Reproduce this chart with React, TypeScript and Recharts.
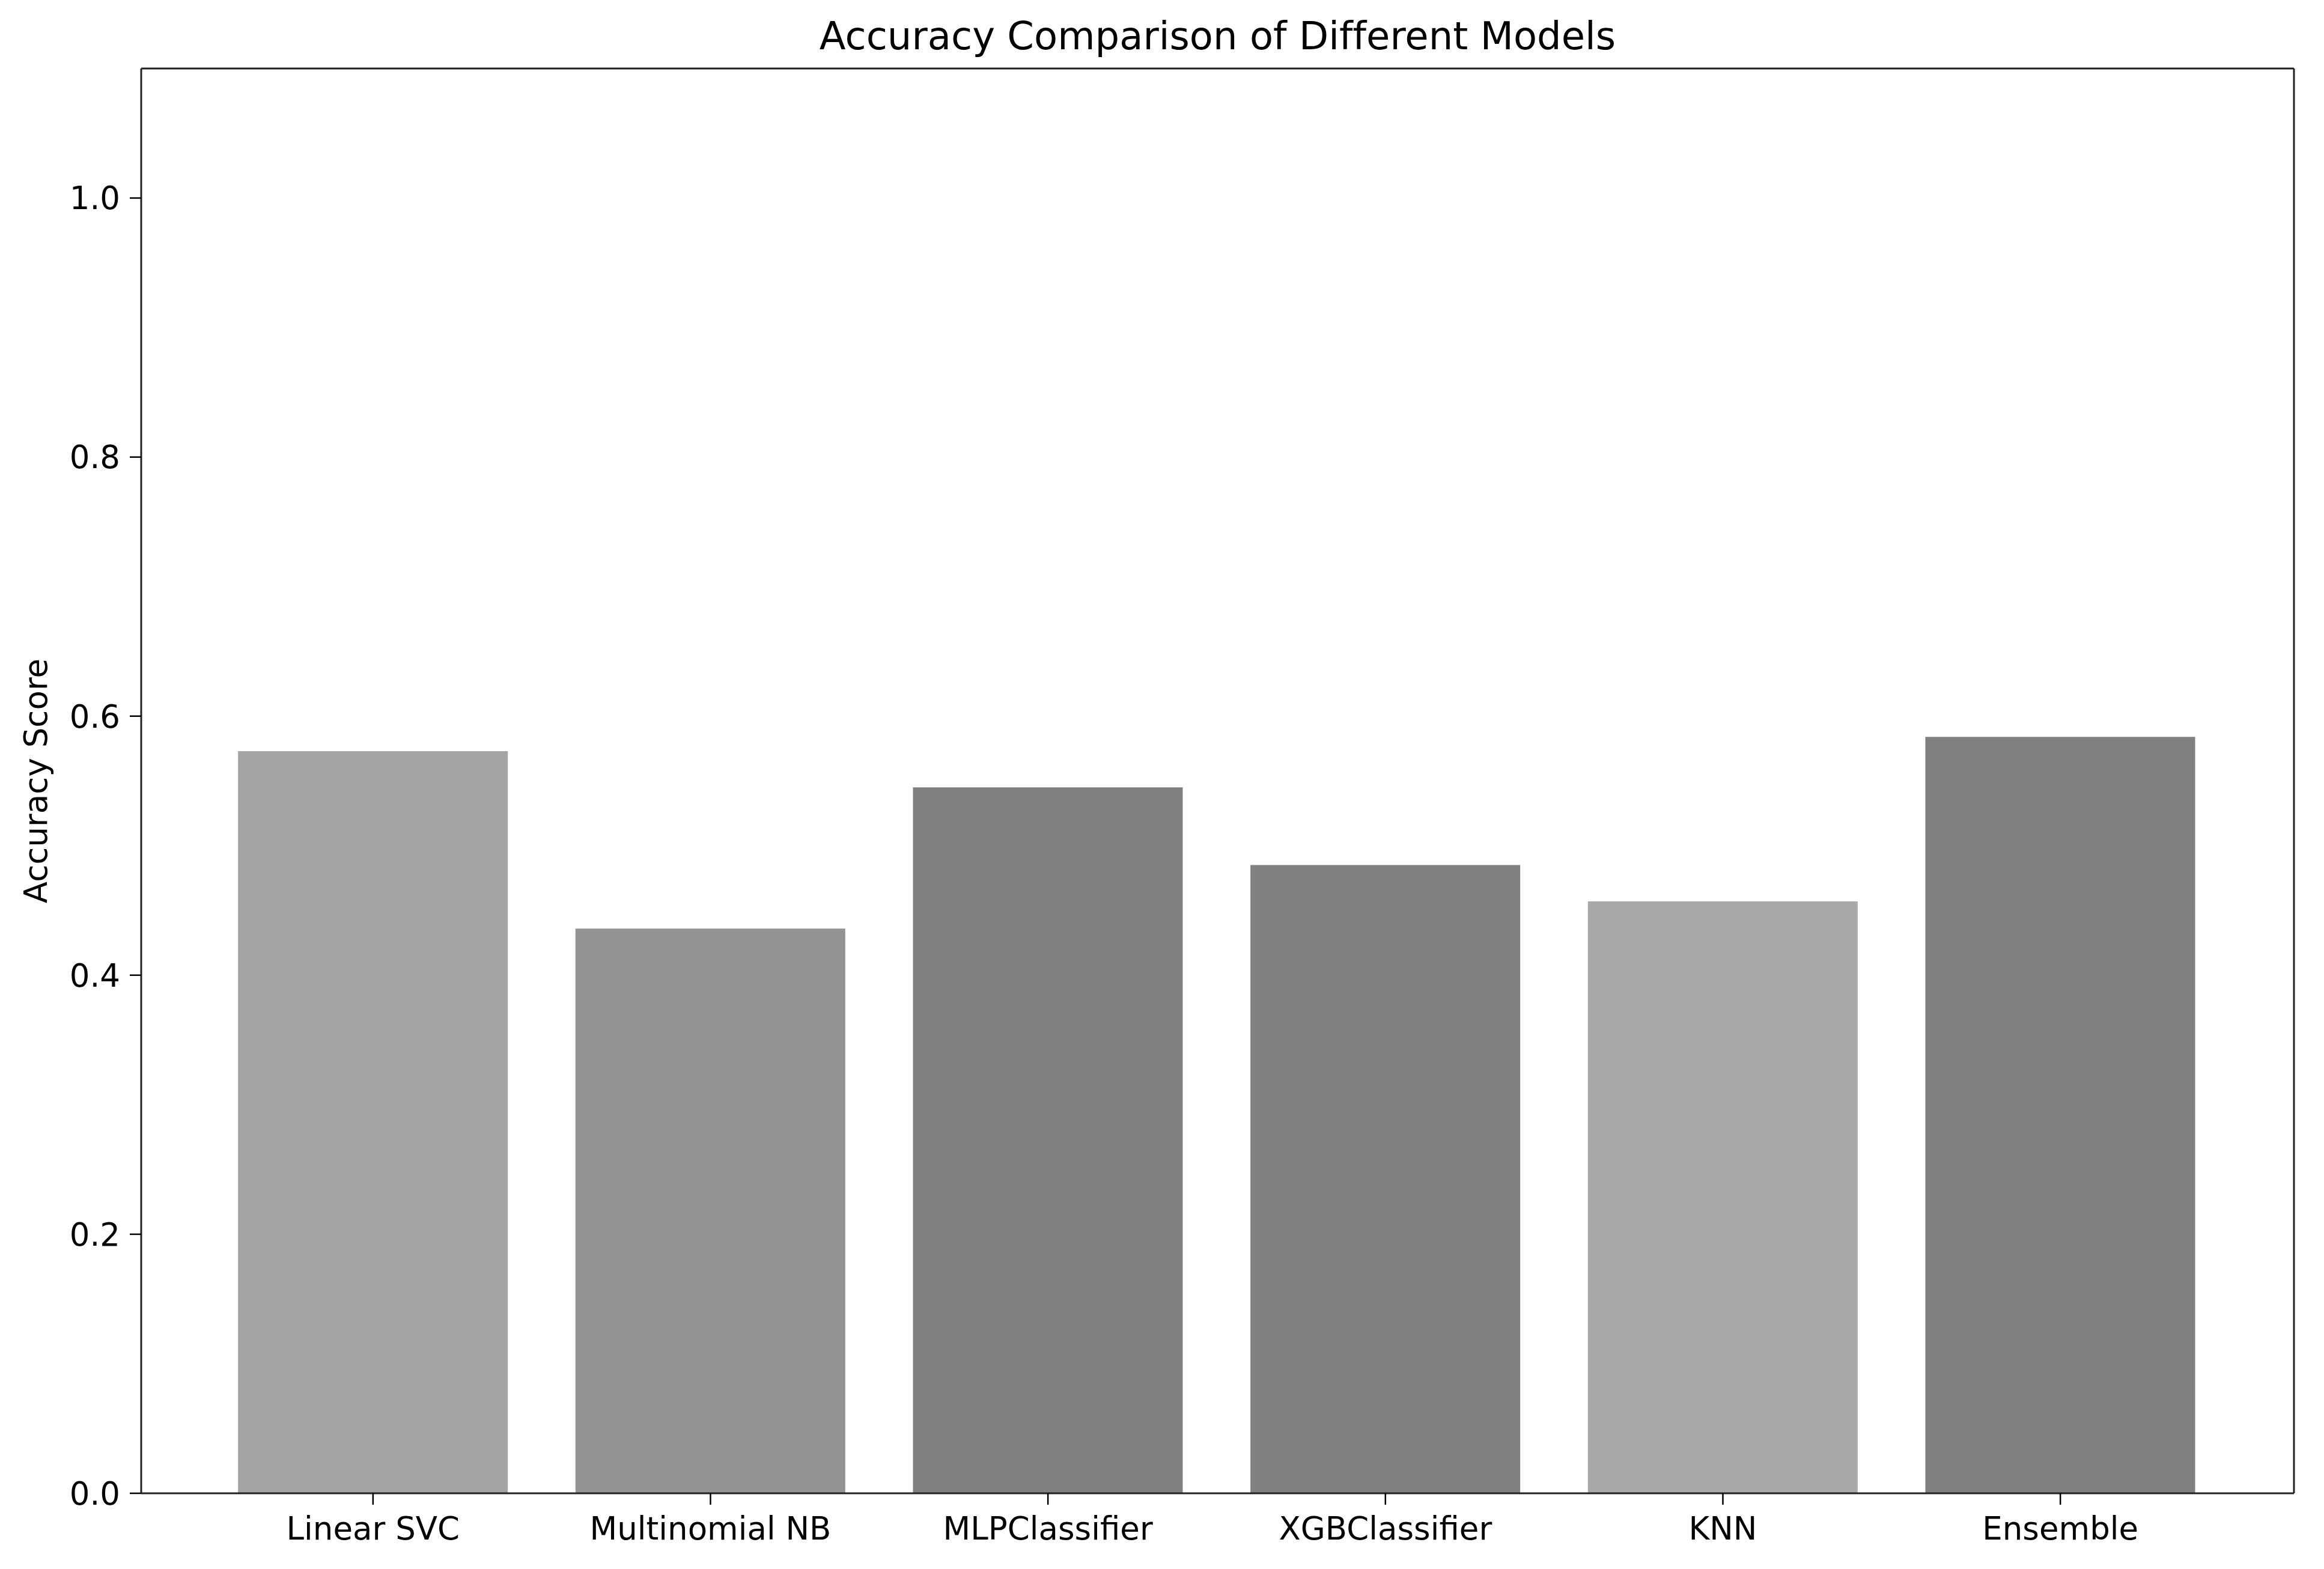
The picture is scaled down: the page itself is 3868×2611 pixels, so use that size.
import { BarChart, Bar, XAxis, YAxis, Cell } from 'recharts'

const models = ['Linear SVC', 'Multinomial NB', 'MLPClassifier', 'XGBClassifier', 'KNN', 'Ensemble']
const accuracy = [0.573, 0.436, 0.545, 0.485, 0.457, 0.584]
const barColors = ['#a4a4a4', '#939393', '#808080', '#808080', '#a9a9a9', '#808080']
const yTicks = [0, 0.2, 0.4, 0.6, 0.8, 1.0]

const data = models.map((name, i) => ({ name, accuracy: accuracy[i] }))

const FONT = "'DejaVu Sans', Verdana, sans-serif"
const tickStyle = { fontSize: 53, fill: '#000', fontFamily: FONT, fontVariantLigatures: 'none' }
const spine = { stroke: '#222', strokeWidth: 3 }

function YLabel(props: any) {
  const vb = props.viewBox || { y: 0, height: 0 }
  const cy = vb.y + vb.height / 2
  return (
    <text
      x={59}
      y={cy}
      transform={`rotate(-90, 59, ${cy})`}
      textAnchor="middle"
      dominantBaseline="central"
      fontSize={53}
      fontFamily={FONT}
      fill="#000"
    >
      Accuracy Score
    </text>
  )
}

export default function App() {
  return (
    <div style={{ position: 'absolute', left: 0, top: 0, width: 3868, height: 2611, background: '#fff' }}>
      <div
        style={{
          position: 'absolute',
          left: 235,
          width: 3583,
          top: 28,
          textAlign: 'center',
          fontFamily: FONT,
          fontSize: 64,
          lineHeight: '64px',
          color: '#000',
          fontVariantLigatures: 'none',
        }}
      >
        Accuracy Comparison of Different Models
      </div>
      <BarChart
        width={3868}
        height={2611}
        data={data}
        margin={{ top: 113, right: 49, left: 0, bottom: 0 }}
        barCategoryGap="10%"
      >
        <XAxis
          dataKey="name"
          height={126}
          padding={{ left: 105, right: 108 }}
          tick={tickStyle}
          tickSize={19}
          tickMargin={20}
          tickLine={{ stroke: '#000', strokeWidth: 2.5 }}
          axisLine={spine}
          interval={0}
        />
        <XAxis
          xAxisId="top"
          dataKey="name"
          orientation="top"
          height={1}
          tick={false}
          tickLine={false}
          axisLine={spine}
        />
        <YAxis
          width={235}
          domain={[0, 1.1]}
          ticks={yTicks}
          tickFormatter={(v: number) => v.toFixed(1)}
          tick={tickStyle}
          tickSize={19}
          tickMargin={16}
          tickLine={{ stroke: '#000', strokeWidth: 2.5 }}
          axisLine={spine}
          label={<YLabel />}
        />
        <YAxis
          yAxisId="right"
          orientation="right"
          width={1}
          domain={[0, 1.1]}
          tick={false}
          tickLine={false}
          axisLine={spine}
        />
        <Bar dataKey="accuracy" isAnimationActive={false}>
          {data.map((d, i) => (
            <Cell key={d.name} fill={barColors[i]} />
          ))}
        </Bar>
      </BarChart>
    </div>
  )
}
